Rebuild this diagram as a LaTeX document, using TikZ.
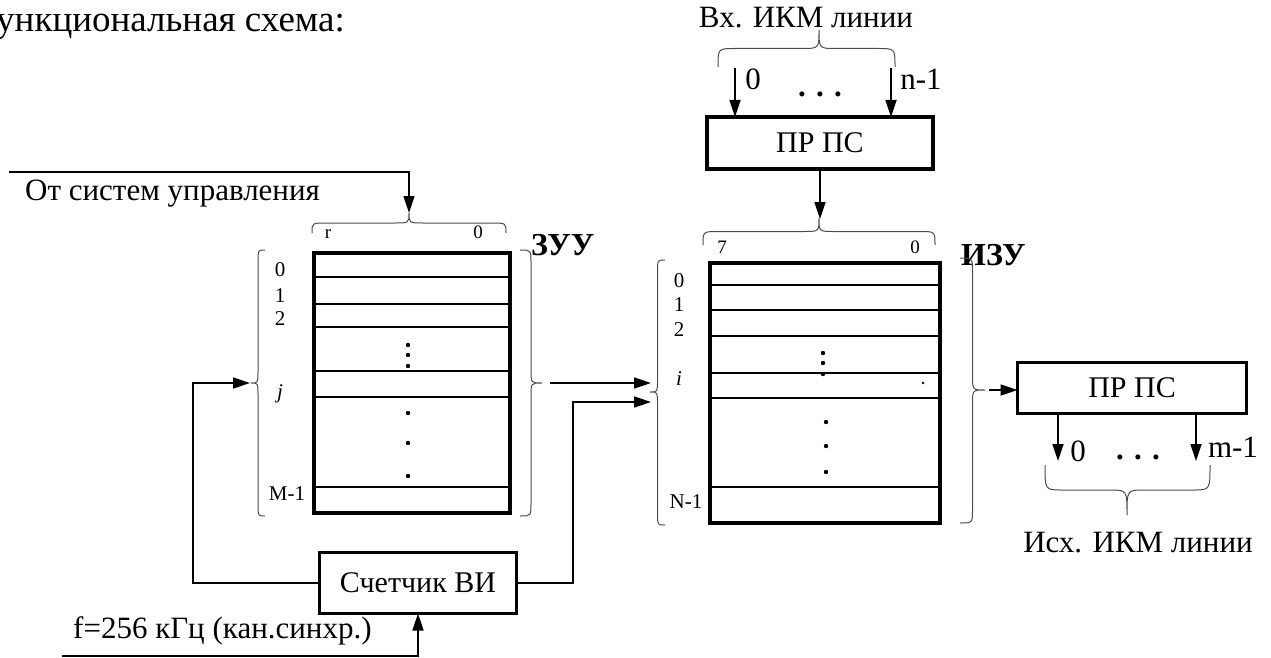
\documentclass[tikz,border=0pt]{standalone}
\usepackage{fontspec}
\setmainfont{Liberation Serif}
\usetikzlibrary{positioning,arrows.meta,calc}
\newcommand\bigtxt{\fontsize{31}{35}\selectfont}
\newcommand\boxtxt{\fontsize{30}{34}\selectfont}
\newcommand\midtxt{\fontsize{21}{25}\selectfont}
\newcommand\smtxt{\fontsize{19}{23}\selectfont}
\tikzset{
  >={Triangle[length=17pt,width=11pt]},
  mem/.style={draw,line width=3.8pt,inner sep=0pt,outer sep=0pt},
  blk/.style={draw,line width=3.2pt,inner sep=0pt,outer sep=0pt,font=\boxtxt},
  row/.style={line width=1.5pt},
  conn/.style={->,line width=1.7pt},
  brline/.style={line width=1pt,black!70},
  lbl/.style={inner sep=0pt,font=\bigtxt},
  num/.style={inner sep=0pt,font=\midtxt,anchor=base},
  sm/.style={inner sep=0pt,font=\smtxt,anchor=base},
  pics/hbr/.style n args={4}{code={
    \draw[brline] (#1,0) .. controls (#1,#3/2) .. ({#1+#4},#3/2) -- (-#4,#3/2)
      .. controls (0,#3/2) .. (0,#3) .. controls (0,#3/2) .. (#4,#3/2)
      -- ({#2-#4},#3/2) .. controls (#2,#3/2) .. (#2,0);}},
  pics/vbr/.style n args={4}{code={
    \draw[brline] (0,#1) .. controls (#3/2,#1) .. (#3/2,{#1+#4}) -- (#3/2,-#4)
      .. controls (#3/2,0) .. (#3,0) .. controls (#3/2,0) .. (#3/2,#4)
      -- (#3/2,{#2-#4}) .. controls (#3/2,#2) .. (0,#2);}},
}

\begin{document}
\begin{tikzpicture}[x=1pt,y=-1pt]
  \useasboundingbox (0,0) rectangle (1271,658);
  \node[lbl,anchor=base east,font=\fontsize{37}{41}\selectfont] (title) at (345,32) {Функциональная схема:};

  % memories
  \node[mem,minimum width=196pt,minimum height=260pt] (zuu) at (412,383) {};
  \node[mem,minimum width=230pt,minimum height=260pt] (izu) at (825,393) {};
  \foreach \y in {277,304,327,371,397,487}
    \draw[row] (zuu.west |- 0,\y) -- (zuu.east |- 0,\y);
  \foreach \y in {285,310,336,373,398,487}
    \draw[row] (izu.west |- 0,\y) -- (izu.east |- 0,\y);
  \foreach \y in {345,355,366,413,443,476} \fill (408,\y) circle (2.2pt);
  \foreach \y in {353,363,374} \fill (823,\y) circle (2.2pt);
  \foreach \y in {422,446,472} \fill (826,\y) circle (2.2pt);
  \fill (923,383) circle (1.4pt);
  \node[lbl,anchor=base west,font=\fontsize{32}{36}\selectfont\bfseries] (zuulbl) at (531,255) {ЗУУ};
  \node[lbl,anchor=base west,font=\fontsize{32}{36}\selectfont\bfseries] (izulbl) at (961,265) {ИЗУ};

  % bit and cell numbers
  \node[sm] (zr) at (328,238) {r};
  \node[sm] (z0) at (478,238) {0};
  \node[sm] (i7) at (722,253) {7};
  \node[sm] (i0) at (915,253) {0};
  \node[num] (zc0) at (280,276) {0};
  \node[num] (zc1) at (280,302) {1};
  \node[num] (zc2) at (280,325) {2};
  \node[num] (zcj) at (280,398) {\textit{j}};
  \node[num] (zcm) at (287,500) {M-1};
  \node[num] (ic0) at (679,287) {0};
  \node[num] (ic1) at (679,311) {1};
  \node[num] (ic2) at (679,336) {2};
  \node[num] (ici) at (679,385) {\textit{i}};
  \node[num] (icn) at (686,508) {N-1};

  % braces
  \pic at (409,233) {hbr={-97}{97}{-20}{14}};
  \pic at (265,383) {vbr={-133}{133}{-14}{11}};
  \pic at (520,383) {vbr={-133}{133}{22}{13}};
  \pic at (819,245) {hbr={-116}{116}{-27}{15}};
  \pic at (665,392) {vbr={-132}{133}{-15}{11}};
  \pic at (960,390) {vbr={-132}{133}{25}{14}};
  \pic at (819,67) {hbr={-101}{76}{-37}{17}};
  \pic at (1127,465) {hbr={-82}{83}{50}{17}};

  % blocks
  \node[blk,minimum width=226pt,minimum height=52pt] (prin) at (820,143) {ПР ПС};
  \node[blk,minimum width=229pt,minimum height=51pt] (prout) at (1132,388) {ПР ПС};
  \node[blk,minimum width=197pt,minimum height=61pt] (cnt) at (418,583) {Счетчик ВИ};

  % inputs and outputs
  \node[lbl,anchor=base] (vx) at (806,28) {Вх. ИКМ линии};
  \node[lbl,anchor=base] (vx0) at (753,90) {0};
  \node[lbl,anchor=base] (vxd) at (820,97) {\textbf{. . .}};
  \node[lbl,anchor=base] (vxn) at (921,90) {n-1};
  \node[lbl,anchor=base] (ox0) at (1078,461) {0};
  \node[lbl,anchor=base] (oxd) at (1138,459) {\textbf{. . .}};
  \node[lbl,anchor=base] (oxm) at (1233,457) {m-1};
  \node[lbl,anchor=base] (isx) at (1138,552) {Исх. ИКМ линии};
  \node[lbl,anchor=base west] (ctrltxt) at (25,200) {От систем управления};
  \node[lbl,anchor=base west] (ftxt) at (73,638) {f=256 кГц (кан.синхр.)};

  % connectors
  \coordinate (ctrl) at (9,172);
  \coordinate (zuutop) at (409,213);
  \coordinate (zuuin) at (250,383);
  \coordinate (jogL) at (193,0);
  \coordinate (zuuout) at (550,383);
  \coordinate (izuin) at (651,392);
  \coordinate (jogR) at (573,402);
  \coordinate (fin) at (62,656);
  \coordinate (inA) at (735,68);
  \coordinate (inB) at (891,68);
  \coordinate (izutop) at (819,219);
  \coordinate (izuout) at (989,390);
  \coordinate (outA) at (1058,461);
  \coordinate (outB) at (1196,461);
  \draw[conn] (ctrl) -| (zuutop);
  \draw[conn] (cnt.west) -| (jogL |- zuuin) -- (zuuin);
  \draw[conn] (zuuout) -- (zuuout -| izuin);
  \draw[conn] (cnt.east) -| (jogR) -- (jogR -| izuin);
  \draw[conn] (fin) -| (cnt.south);
  \draw[conn] (inA) -- (inA |- prin.north);
  \draw[conn] (inB) -- (inB |- prin.north);
  \draw[conn] (prin.south) -- (prin.south |- izutop);
  \draw[conn] (izuout) -- (izuout -| prout.west);
  \draw[conn] (outA |- prout.south) -- (outA);
  \draw[conn] (outB |- prout.south) -- (outB);
\end{tikzpicture}
\end{document}
